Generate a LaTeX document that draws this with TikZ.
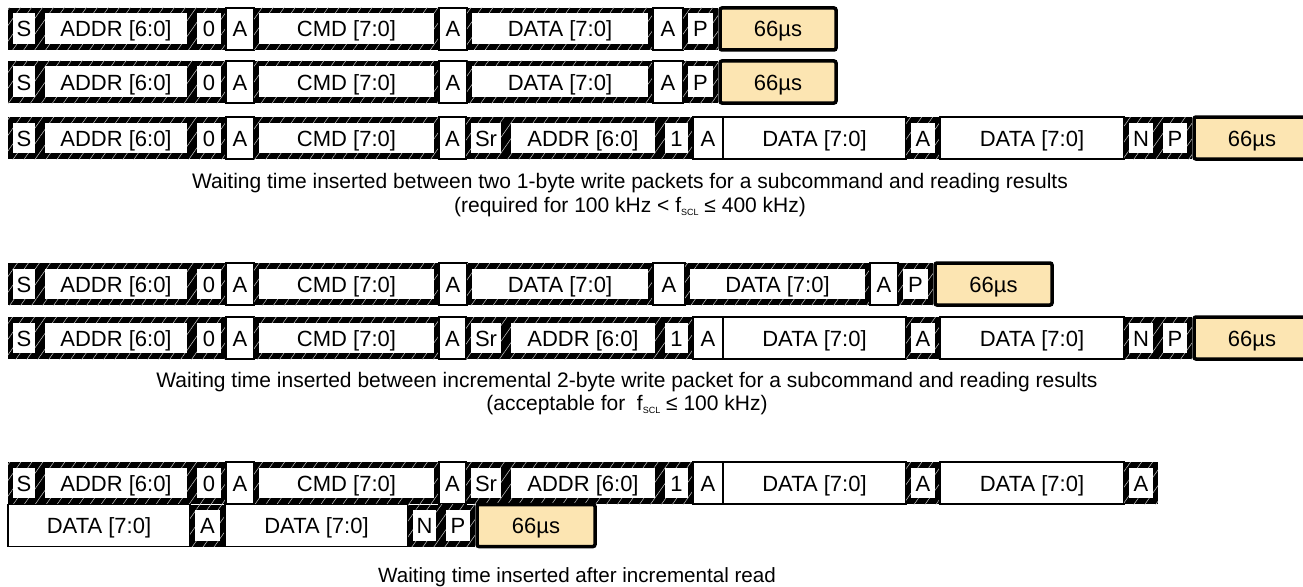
\documentclass[tikz,border=0pt]{standalone}
\usepackage{fontspec}
\setmainfont{Liberation Sans}
\usetikzlibrary{patterns.meta}
\definecolor{waitfill}{RGB}{252,229,178}
\begin{document}
\begin{tikzpicture}[x=1pt,y=-1pt,
  every node/.style={font=\fontsize{22}{24}\selectfont},
  cell/.style={minimum height=42,inner sep=0pt,outer sep=0pt,anchor=west,text height=16,text depth=0},
  hcell/.style={cell,preaction={fill=black},
    pattern={Lines[angle=55,distance=9pt,line width=0.5pt]},pattern color=gray!40,
    path picture={\fill[white] ([shift={(5pt,-5.5pt)}]path picture bounding box.north west)
      rectangle ([shift={(-5pt,6pt)}]path picture bounding box.south east);}},
  wcell/.style={cell,draw=black,line width=1.2pt,fill=white},
  tcell/.style={cell,draw=black,line width=3.5pt,fill=waitfill,rounded corners=2pt},
  note/.style={align=center,font=\fontsize{21}{23.5}\selectfont}]
  \useasboundingbox (0,0) rectangle (1303,586);
  \foreach \y/\rw in {29/1,82/2}
    \foreach \x/\w/\k/\lbl [count=\i] in {8/32/hcell/S,40/152/hcell/ADDR [6:0],192/34/hcell/0,
        226/28/wcell/A,254/185/hcell/CMD [7:0],439/28/wcell/A,467/186/hcell/DATA [7:0],
        653/30/wcell/A,683/35/hcell/P,720/116/tcell/66µs}
      \node[\k,minimum width=\w] (r\rw-\i) at (\x,\y) {\lbl};
  \foreach \y/\rw in {138/3,338/5}
    \foreach \x/\w/\k/\lbl [count=\i] in {8/32/hcell/S,40/152/hcell/ADDR [6:0],192/34/hcell/0,
        226/28/wcell/A,254/185/hcell/CMD [7:0],439/27/wcell/A,466/40/hcell/Sr,
        506/154/hcell/ADDR [6:0],660/33/hcell/1,693/30/wcell/A,723/183/wcell/DATA [7:0],
        906/34/hcell/A,940/184/wcell/DATA [7:0],1124/34/hcell/N,1158/34/hcell/P,1194/116/tcell/66µs}
      \node[\k,minimum width=\w] (r\rw-\i) at (\x,\y) {\lbl};
  \foreach \x/\w/\k/\lbl [count=\i] in {8/32/hcell/S,40/152/hcell/ADDR [6:0],192/34/hcell/0,
      226/28/wcell/A,254/185/hcell/CMD [7:0],439/28/wcell/A,467/186/hcell/DATA [7:0],
      653/32/wcell/A,685/185/hcell/DATA [7:0],870/28/wcell/A,898/35/hcell/P,935/117/tcell/66µs}
    \node[\k,minimum width=\w] (r4-\i) at (\x,284) {\lbl};
  \foreach \x/\w/\k/\lbl [count=\i] in {8/32/hcell/S,40/152/hcell/ADDR [6:0],192/34/hcell/0,
      226/28/wcell/A,254/185/hcell/CMD [7:0],439/27/wcell/A,466/40/hcell/Sr,
      506/154/hcell/ADDR [6:0],660/33/hcell/1,693/30/wcell/A,723/183/wcell/DATA [7:0],
      906/34/hcell/A,940/184/wcell/DATA [7:0],1124/34/hcell/A}
    \node[\k,minimum width=\w] (r6-\i) at (\x,483) {\lbl};
  \foreach \x/\w/\k/\lbl [count=\i] in {8/182/wcell/DATA [7:0],190/35/hcell/A,225/183/wcell/DATA [7:0],
      408/33/hcell/N,441/34/hcell/P,477/118/tcell/66µs}
    \node[\k,minimum width=\w] (r7-\i) at (\x,525.5) {\lbl};
  \node[note] (cap1) at (630,195) {Waiting time inserted between two 1-byte write packets for a subcommand and reading results\\
    (required for 100 kHz < f\raisebox{-3pt}{\fontsize{9}{9}\selectfont SCL} ≤ 400 kHz)};
  \node[note] (cap2) at (627,393.5) {Waiting time inserted between incremental 2-byte write packet for a subcommand and reading results\\
    (acceptable for~ f\raisebox{-3pt}{\fontsize{9}{9}\selectfont SCL} ≤ 100 kHz)};
  \node[note,font=\fontsize{20.6}{23}\selectfont] (cap3) at (577,577) {Waiting time inserted after incremental read};
\end{tikzpicture}
\end{document}
